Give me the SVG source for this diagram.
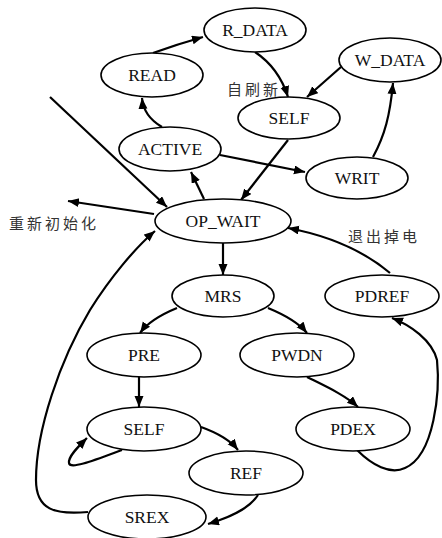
<svg xmlns="http://www.w3.org/2000/svg" width="442" height="538" viewBox="0 0 442 538">
<defs>
<marker id="ah" markerUnits="userSpaceOnUse" markerWidth="12" markerHeight="10" refX="11" refY="4.5" orient="auto">
<path d="M0,0 L11,4.5 L0,9 z" fill="#000"/>
</marker>
<style>
.n ellipse{fill:#fff;stroke:#000;stroke-width:1.6}
.n text{font-size:17.5px;text-anchor:middle;fill:#111}
.e path{fill:none;stroke:#000;stroke-width:2.2;marker-end:url(#ah)}
.lbl{font-size:15px;letter-spacing:3px;fill:#333}
</style>
</defs>
<rect width="442" height="538" fill="#fff"/>
<g id="connectors" class="e">
<path d="M153,53 Q178,44 203,37"/>
<path d="M255,52 C270,62 282,78 288,97"/>
<path d="M341,67 L307,97"/>
<path d="M162,127 C150,120 143,110 142,98"/>
<path d="M220,155 L305,172"/>
<path d="M373,157 C385,135 390,115 393,83"/>
<path d="M288,140 L241,200"/>
<path d="M204,199 L191,172"/>
<path d="M50,97 L167,207"/>
<path d="M154,214 L68,201"/>
<path d="M223,243 L223,275"/>
<path d="M177,308 C160,315 148,322 140,333"/>
<path d="M268,308 C285,315 298,322 307,333"/>
<path d="M390,273 C365,252 330,236 288,228"/>
<path d="M357,450 C372,465 390,475 405,468 C435,455 440,390 437,360 C432,340 410,325 392,318"/>
<path d="M307,377 C325,386 345,395 358,407"/>
<path d="M139,377 L139,407"/>
<path d="M122,450 C95,460 70,470 69,463 C68,456 80,445 87,438"/>
<path d="M201,427 C215,432 230,440 238,450"/>
<path d="M258,495 C248,510 228,518 208,524"/>
<path d="M88,512 C55,515 36,510 36,480 C36,430 60,360 90,310 C110,278 135,248 155,231"/>
</g>
<g font-family="Liberation Serif, Times New Roman, serif">
<g id="R_DATA" class="n"><ellipse cx="255" cy="30" rx="51" ry="22"/><text x="255" y="36">R_DATA</text></g>
<g id="READ" class="n"><ellipse cx="152" cy="75" rx="51" ry="22"/><text x="152" y="81">READ</text></g>
<g id="W_DATA" class="n"><ellipse cx="390" cy="60" rx="51" ry="22"/><text x="390" y="66">W_DATA</text></g>
<g id="SELF_TOP" class="n"><ellipse cx="289" cy="118" rx="51" ry="21"/><text x="289" y="124">SELF</text></g>
<g id="ACTIVE" class="n"><ellipse cx="170" cy="149" rx="51" ry="22"/><text x="170" y="155">ACTIVE</text></g>
<g id="WRIT" class="n"><ellipse cx="357" cy="178" rx="51" ry="21"/><text x="357" y="184">WRIT</text></g>
<g id="OP_WAIT" class="n"><ellipse cx="223" cy="221" rx="68" ry="22"/><text x="223" y="227">OP_WAIT</text></g>
<g id="MRS" class="n"><ellipse cx="223" cy="296" rx="51" ry="21"/><text x="223" y="302">MRS</text></g>
<g id="PDREF" class="n"><ellipse cx="382" cy="296" rx="57" ry="21"/><text x="382" y="302">PDREF</text></g>
<g id="PRE" class="n"><ellipse cx="144" cy="355" rx="57" ry="22"/><text x="144" y="361">PRE</text></g>
<g id="PWDN" class="n"><ellipse cx="297" cy="355" rx="57" ry="22"/><text x="297" y="361">PWDN</text></g>
<g id="SELF_BOTTOM" class="n"><ellipse cx="144" cy="429" rx="57" ry="22"/><text x="144" y="435">SELF</text></g>
<g id="PDEX" class="n"><ellipse cx="353" cy="429" rx="57" ry="22"/><text x="353" y="435">PDEX</text></g>
<g id="REF" class="n"><ellipse cx="246" cy="473" rx="57" ry="22"/><text x="246" y="479">REF</text></g>
<g id="SREX" class="n"><ellipse cx="147" cy="517" rx="59" ry="22"/><text x="147" y="523">SREX</text></g>
</g>
<g id="labels" font-family="Liberation Serif, Noto Sans CJK SC, serif">
<text class="lbl" x="227" y="95">自刷新</text>
<text class="lbl" x="9" y="229">重新初始化</text>
<text class="lbl" x="348" y="242">退出掉电</text>
</g>
</svg>
